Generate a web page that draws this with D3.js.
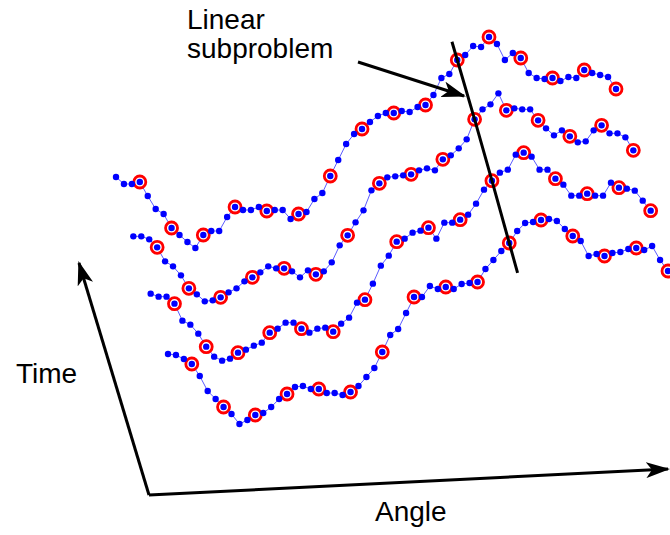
<!DOCTYPE html>
<html>
<head>
<meta charset="utf-8">
<script src="https://cdn.jsdelivr.net/npm/d3@7"></script>
<style>
  html, body { margin: 0; padding: 0; background: #fff; }
  svg { display: block; }
  text { font-family: "Liberation Sans", Arial, sans-serif; fill: #000; }
</style>
</head>
<body>
<svg id="chart" width="670" height="535"></svg>
<script>
// Sampled profiles (amplitude) over the angle grid, one per time slice,
// earliest slice first.
const profileT0 = [76,75,71,66,54,39,31,23,16,6,10,15,17,23,31,36,43,44,41,41,37,37,35,38,44,53,62,78,95,101,117,133,133,144,141,143,141,146,147,148,161,170,179,187,199,207,208,210,211,209,201,194,189,174,176,174,177,178,181,182,180,184,170,159];
const profileT1 = [77,74,74,67,50,46,37,24,14,10,12,18,21,25,28,38,42,48,48,42,38,42,43,39,47,53,68,71,87,105,115,129,132,138,140,143,132,148,148,151,156,167,181,190,198,201,216,218,214,201,201,192,186,175,175,177,175,175,188,183,182,180,170,160];
const profileT2 = [75,75,72,64,50,45,36,23,17,10,11,14,19,23,30,34,39,45,43,43,40,34,41,37,40,49,66,76,89,101,121,128,134,135,136,137,141,143,141,152,156,163,172,192,202,207,218,201,203,202,202,191,183,176,181,175,169,170,181,186,178,178,174,161];
const profileT3 = [75,68,68,70,56,43,38,24,17,10,4,17,21,21,35,45,42,42,45,41,42,42,33,38,40,53,59,76,92,108,118,123,130,136,139,139,141,140,145,147,157,174,178,192,197,206,205,215,208,192,199,194,179,174,173,174,171,175,174,182,179,177,175,163];
const timeSlices = [0, 1, 2, 3];
const profiles = [profileT0, profileT1, profileT2, profileT3];

// Every fourth sample is a coarse-grid node; one angle column is the subproblem.
const coarseStep = 4;
const coarseOffset = 3;
const subproblemIndex = 43;

const annotationLines = ["Linear", "subproblem"];
const timeLabel = "Time";
const angleLabel = "Angle";

const svg = d3.select("#chart");

// Oblique projection: angle runs to the right, time lifts and shifts each slice.
const nSamples = profileT0.length;
const xAngle = d3.scaleLinear().domain([0, nSamples - 1]).range([168, 668]);
const yAmp = d3.scaleLinear().domain([0, 100]).range([430, 330]);
const timeShiftX = d3.scaleLinear().domain([0, 3]).range([0, -52]);
const timeLiftY = d3.scaleLinear().domain([0, 3]).range([0, -178]);

const project = (t, i, a) => [xAngle(i) + timeShiftX(t), yAmp(a) + timeLiftY(t)];

const slices = timeSlices.map(t => ({
  t,
  pts: profiles[t].map((a, i) => ({ i, p: project(t, i, a) }))
}));

// Axes arrows
const defs = svg.append("defs");
defs.append("marker")
  .attr("id", "head")
  .attr("viewBox", "0 0 24 16")
  .attr("refX", 22).attr("refY", 8)
  .attr("markerWidth", 24).attr("markerHeight", 16)
  .attr("markerUnits", "userSpaceOnUse")
  .attr("orient", "auto")
  .append("path")
  .attr("d", "M0,0 L24,8 L0,16 L6,8 Z")
  .attr("fill", "#000");

const origin = [149, 495];
svg.append("line")
  .attr("x1", origin[0]).attr("y1", origin[1])
  .attr("x2", 79).attr("y2", 263)
  .attr("stroke", "#000").attr("stroke-width", 3)
  .attr("marker-end", "url(#head)");
svg.append("line")
  .attr("x1", origin[0]).attr("y1", origin[1])
  .attr("x2", 668).attr("y2", 469)
  .attr("stroke", "#000").attr("stroke-width", 3)
  .attr("marker-end", "url(#head)");

svg.append("text").attr("x", 16).attr("y", 383)
  .attr("font-size", 28).text(timeLabel);
svg.append("text").attr("x", 375).attr("y", 521)
  .attr("font-size", 28).text(angleLabel);

// Profiles
const line = d3.line().x(d => d.p[0]).y(d => d.p[1]);
const g = svg.append("g");
g.selectAll("path.profile")
  .data(slices)
  .join("path")
  .attr("class", "profile")
  .attr("d", d => line(d.pts))
  .attr("fill", "none")
  .attr("stroke", "#5b5bff")
  .attr("stroke-width", 1);

// Coarse nodes: red rings
const coarse = slices.flatMap(s => s.pts.filter(d => d.i % coarseStep === coarseOffset));
g.selectAll("circle.ring")
  .data(coarse)
  .join("circle")
  .attr("class", "ring")
  .attr("cx", d => d.p[0]).attr("cy", d => d.p[1])
  .attr("r", 6)
  .attr("fill", "#fff")
  .attr("stroke", "#ff0000")
  .attr("stroke-width", 2.8);

// Fine samples: blue dots
g.selectAll("circle.dot")
  .data(slices.flatMap(s => s.pts))
  .join("circle")
  .attr("class", "dot")
  .attr("cx", d => d.p[0]).attr("cy", d => d.p[1])
  .attr("r", 3.2)
  .attr("fill", "#0000ff");

// Linear subproblem: line through one angle column across time slices
const col = slices.map(s => s.pts[subproblemIndex].p).reverse();
const extend = (a, b, len) => {
  const dx = b[0] - a[0], dy = b[1] - a[1], n = Math.hypot(dx, dy);
  return [b[0] + dx / n * len, b[1] + dy / n * len];
};
const colPath = [extend(col[1], col[0], 19), ...col, extend(col[col.length - 2], col[col.length - 1], 31)];
svg.append("path")
  .attr("d", d3.line()(colPath))
  .attr("fill", "none")
  .attr("stroke", "#000")
  .attr("stroke-width", 3)
  .attr("stroke-linejoin", "round");

// Annotation
svg.append("line")
  .attr("x1", 358).attr("y1", 62)
  .attr("x2", 464).attr("y2", 96)
  .attr("stroke", "#000").attr("stroke-width", 3)
  .attr("marker-end", "url(#head)");
svg.append("text")
  .attr("font-size", 28)
  .selectAll("tspan")
  .data(annotationLines)
  .join("tspan")
  .attr("x", 187)
  .attr("y", (d, k) => 29 + k * 29)
  .text(d => d);
</script>
</body>
</html>
